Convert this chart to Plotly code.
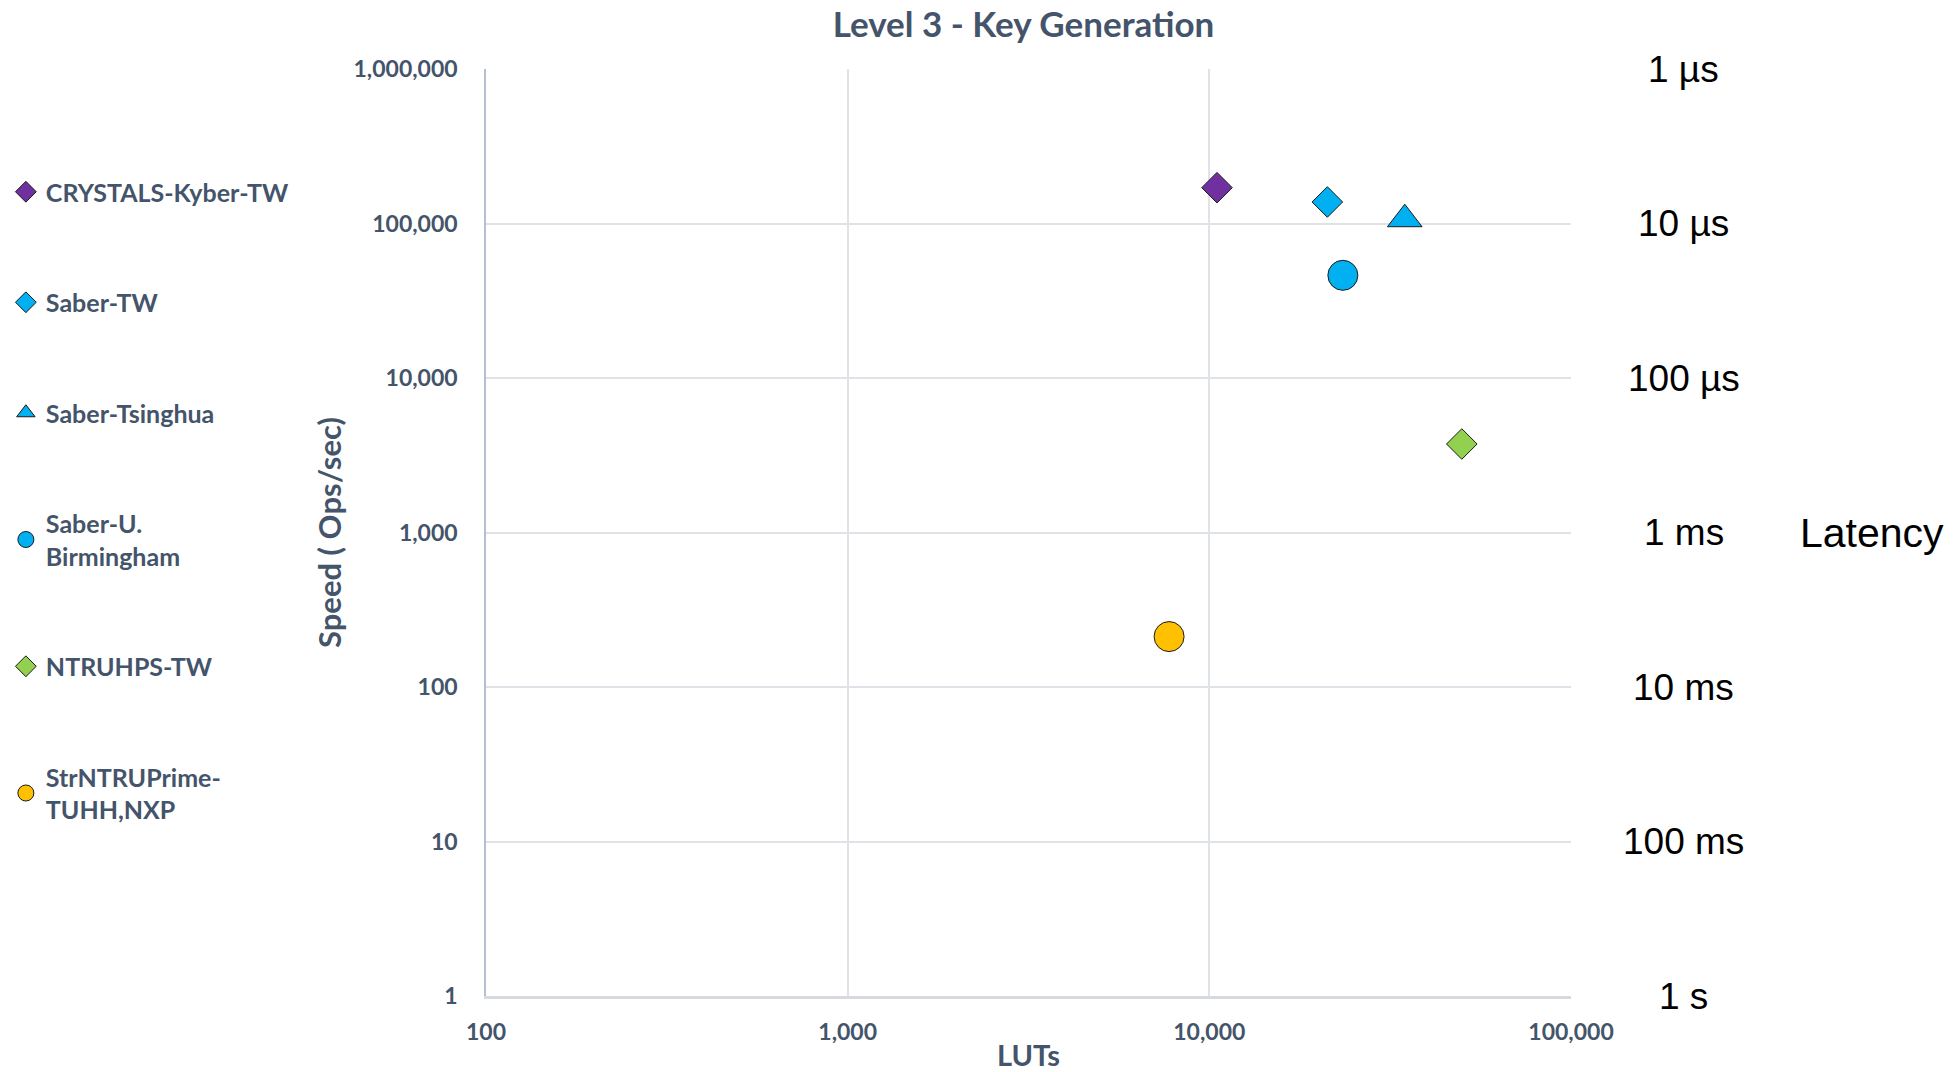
import math
import plotly.graph_objects as go

# Level 3 key generation: FPGA area (LUTs) vs. throughput (operations per second)
designs = ["CRYSTALS-Kyber-TW", "Saber-TW", "Saber-Tsinghua",
           "Saber-U.<br>Birmingham", "NTRUHPS-TW", "StrNTRUPrime-<br>TUHH,NXP"]
luts = [10500, 21200, 34700, 23400, 49900, 7740]
ops_per_sec = [170600, 137800, 106600, 46200, 3740, 212]
symbols = ["diamond", "diamond", "triangle-up", "circle", "diamond", "circle"]
colors = ["#7030A0", "#00B0F0", "#00B0F0", "#00B0F0", "#92D050", "#FFC000"]
sizes = [23.5, 23.5, 30, 30, 23.5, 30]

x_ticks = [100, 1000, 10000, 100000]
x_tick_text = ["100", "1,000", "10,000", "100,000"]
y_ticks = [1, 10, 100, 1000, 10000, 100000, 1000000]
y_tick_text = ["1", "10", "100", "1,000", "10,000", "100,000", "1,000,000"]

# Latency equivalent of each speed decade (1 / ops per second)
latency_values = [1000000, 100000, 10000, 1000, 100, 10, 1]
latency_text = ["1 µs", "10 µs", "100 µs", "1 ms", "10 ms", "100 ms", "1 s"]

TEXT = "#44546A"
FONT = "Lato"
LAT_FONT = "Liberation Sans, Arial"

fig = go.Figure()
for i, name in enumerate(designs):
    fig.add_trace(go.Scatter(
        x=[luts[i]], y=[ops_per_sec[i]], mode="markers", name=name,
        legendgroup=f"g{i}",
        marker=dict(symbol=symbols[i], size=sizes[i], color=colors[i],
                    line=dict(color="#1a1a1a", width=1)),
    ))

# annotations on a log axis are positioned in log10 units
annotations = []
for v, t in zip(latency_values, latency_text):
    annotations.append(dict(
        x=1.104, xref="paper", y=math.log10(v), yref="y", text=t, showarrow=False,
        xanchor="center", yanchor="middle",
        font=dict(family=LAT_FONT, size=37, color="#000000"),
    ))
annotations.append(dict(
    x=1.2774, xref="paper", y=math.log10(1000), yref="y", text="Latency",
    showarrow=False, xanchor="center", yanchor="middle",
    font=dict(family=LAT_FONT, size=41, color="#000000"),
))

fig.update_layout(
    width=1957, height=1072,
    margin=dict(l=486, r=386, t=69, b=76),
    paper_bgcolor="white", plot_bgcolor="white",
    title=dict(text="Level 3 - Key Generation", x=0.523, xanchor="center",
               xref="container", y=1 - 25 / 1072, yanchor="middle", yref="container",
               font=dict(family=FONT, size=35, color=TEXT, weight="bold")),
    legend=dict(xref="container", yref="container", x=0.003, xanchor="left",
                y=1 - 169 / 1072, yanchor="top", traceorder="grouped",
                tracegroupgap=75, bgcolor="rgba(0,0,0,0)", maxheight=1000,
                font=dict(family=FONT, size=25, color=TEXT, weight="bold")),
    annotations=annotations,
    showlegend=True,
)

fig.update_xaxes(
    type="log", range=[2, 5], tickvals=x_ticks, ticktext=x_tick_text,
    showgrid=True, gridcolor="#DFE3E8", gridwidth=1.5,
    showline=True, linecolor="#D6DAE0", linewidth=2.5, zeroline=False,
    ticks="", ticklabelstandoff=14, automargin=False,
    tickfont=dict(family=FONT, size=23, color=TEXT, weight="bold"),
    title=dict(text="LUTs", standoff=11,
               font=dict(family=FONT, size=29, color=TEXT, weight="bold")),
)
fig.update_yaxes(
    type="log", range=[0, 6], tickvals=y_ticks, ticktext=y_tick_text,
    showgrid=True, gridcolor="#DFE3E8", gridwidth=1.5,
    showline=True, linecolor="#B4C0D0", linewidth=1.5, zeroline=False,
    ticks="", ticklabelstandoff=22, automargin=False,
    tickfont=dict(family=FONT, size=23, color=TEXT, weight="bold"),
    title=dict(text="Speed ( Ops/sec)", standoff=3,
               font=dict(family=FONT, size=31, color=TEXT, weight="bold")),
)

fig.write_html("out.html")
